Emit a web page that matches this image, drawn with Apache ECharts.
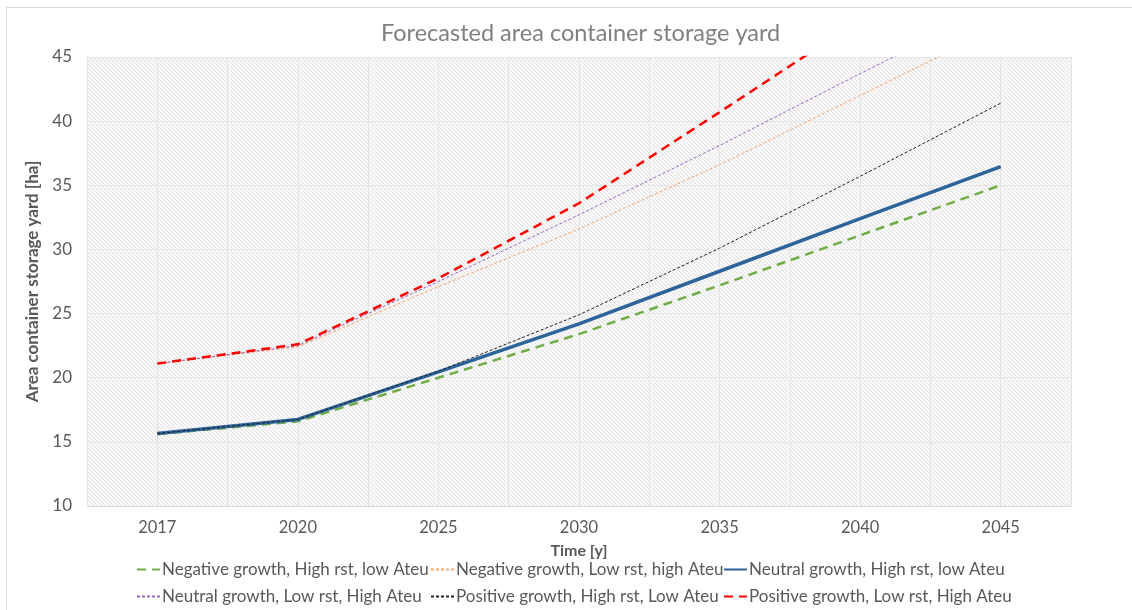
<!DOCTYPE html>
<html>
<head>
<meta charset="utf-8">
<script src="https://cdn.jsdelivr.net/npm/echarts@6/dist/echarts.min.js"></script>
<style>
html,body{margin:0;padding:0;background:#fff;}
#chart{width:1132px;height:610px;}
</style>
</head>
<body>
<div id="chart"></div>
<script>
const categories = ['2017','2020','2025','2030','2035','2040','2045'];
const negHighRst = [15.6, 16.6, 20.0, 23.4, 27.2, 31.1, 35.0];
const negLowRst  = [21.1, 22.4, 27.1, 31.6, 36.6, 42.0, 47.4];
const neuHighRst = [15.65, 16.75, 20.45, 24.2, 28.3, 32.4, 36.45];
const neuLowRst  = [21.1, 22.5, 27.5, 32.7, 38.1, 43.7, 49.2];
const posHighRst = [15.65, 16.75, 20.5, 24.9, 30.1, 35.7, 41.4];
const posLowRst  = [21.1, 22.6, 27.75, 33.6, 40.7, 47.9, 55.0];
const halfSteps = ['a','b','c','d','e','f','g','h','i','j','k','l','m','n'];

const names = [
  'Negative growth, High rst, low Ateu',
  'Negative growth, Low rst, high Ateu',
  'Neutral growth, High rst, low Ateu',
  'Neutral growth, Low rst, High Ateu',
  'Positive growth, High rst, Low Ateu',
  'Positive growth, Low rst, High Ateu'
];

// hatch pattern
const pc = document.createElement('canvas');
pc.width = 4; pc.height = 4;
const g = pc.getContext('2d');
g.fillStyle = '#f8f8f8'; g.fillRect(0,0,4,4);
g.strokeStyle = '#e2e2e2'; g.lineWidth = 1;
g.beginPath(); g.moveTo(-1,-1); g.lineTo(5,5); g.stroke();
g.beginPath(); g.moveTo(-1,3); g.lineTo(1,5); g.stroke();
g.beginPath(); g.moveTo(3,-1); g.lineTo(5,1); g.stroke();

const FONT = 'Lato';
const chart = echarts.init(document.getElementById('chart'), null, {renderer:'canvas'});

function mkSeries(name, data, color, width, type, z) {
  return {
    name, type:'line', data, symbol:'none', clip:true, z,
    lineStyle:{color, width, type, cap:'butt'},
    itemStyle:{color},
    emphasis:{disabled:true}
  };
}
const legendPos = [
  [136,561],[430,561],[723,561],
  [136,588],[430,588],[723,588]
];
const legends = names.map((n,i)=>({
  data:[n], left:legendPos[i][0], top:legendPos[i][1],
  itemWidth:23, itemHeight:14, itemGap:0, padding:0,
  itemStyle:{color:'rgba(0,0,0,0)', borderColor:'rgba(0,0,0,0)', borderWidth:0, opacity:0},
  textStyle:{color:'#595959', fontSize:17, fontFamily:FONT, padding:[0,0,0,-3]},
  selectedMode:false
}));

chart.setOption({
  animation:false,
  backgroundColor:'#fff',
  graphic:[{type:'rect', shape:{x:6.5,y:7.5,width:1200,height:700}, style:{fill:'none', stroke:'#d9d9d9', lineWidth:1}, silent:true, z:-10}],
  title:{text:'Forecasted area container storage yard', left:376, top:16,
    textStyle:{color:'#808080', fontSize:23.5, fontWeight:'normal', fontFamily:FONT}},
  legend:legends,
  grid:{left:87, right:61, top:57, bottom:104, show:true, borderWidth:0,
    backgroundColor:{image:pc, repeat:'repeat'}},
  xAxis:[{
    type:'category', data:categories, boundaryGap:true,
    name:'Time [y]', nameLocation:'middle', nameGap:37,
    nameTextStyle:{color:'#595959', fontSize:16, fontWeight:'bold', fontFamily:FONT},
    axisLine:{show:true, lineStyle:{color:'#d9d9d9'}}, axisTick:{show:false},
    axisLabel:{color:'#595959', fontSize:16.5, fontFamily:FONT, margin:13},
    splitLine:{show:false}
  },{
    type:'category', data:halfSteps, boundaryGap:true, show:true, position:'bottom',
    axisLine:{show:false}, axisTick:{show:false}, axisLabel:{show:false},
    splitLine:{show:true, lineStyle:{color:'#e4e4e4', width:1}}
  }],
  yAxis:{
    type:'value', min:10, max:45, interval:5,
    name:'Area container storage yard [ha]', nameLocation:'middle', nameGap:46,
    nameTextStyle:{color:'#595959', fontSize:17, fontWeight:'bold', fontFamily:FONT},
    axisLine:{show:false}, axisTick:{show:false},
    axisLabel:{color:'#595959', fontSize:17, fontFamily:FONT, margin:15},
    splitLine:{show:true, lineStyle:{color:'#e4e4e4', width:1}}
  },
  series:[
    mkSeries(names[0], negHighRst, '#70ad47', 2.5, [9,6], 3),
    mkSeries(names[1], negLowRst, '#f4a46c', 1, [3,2], 4),
    mkSeries(names[2], neuHighRst, '#2d649b', 3.5, 'solid', 5),
    mkSeries(names[3], neuLowRst, '#9a67c4', 1, [3,2], 6),
    mkSeries(names[4], posHighRst, '#222222', 1, [3,2], 7),
    mkSeries(names[5], posLowRst, '#ff0000', 2.5, [9,6], 8)
  ]
});
</script>
</body>
</html>
